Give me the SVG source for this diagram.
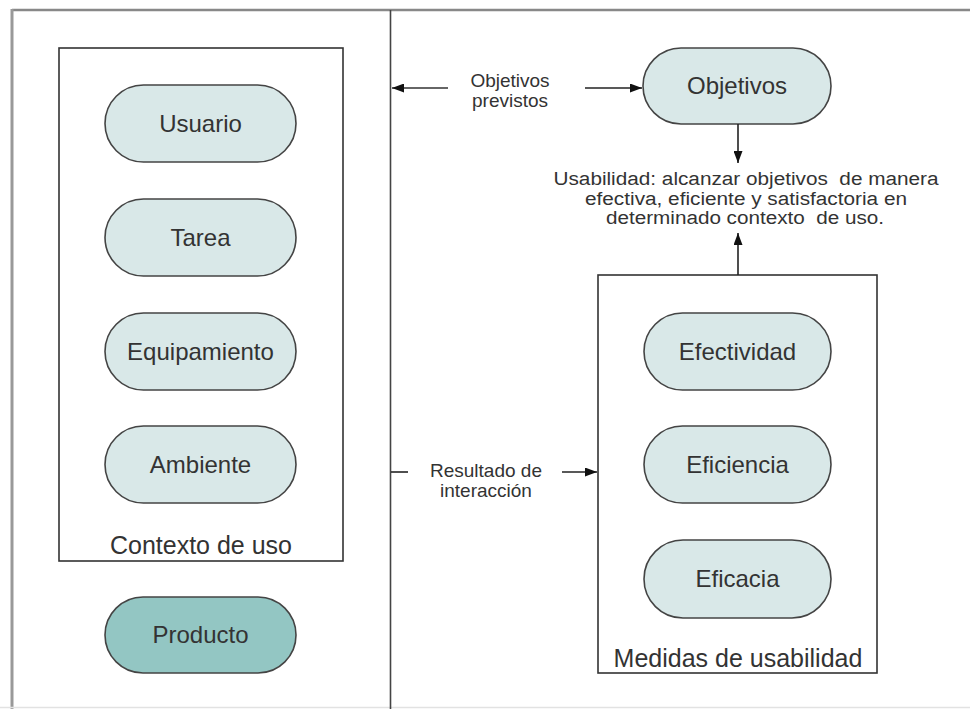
<svg xmlns="http://www.w3.org/2000/svg" width="970" height="709" viewBox="0 0 970 709">
<style>
  .pill { fill: #d9e8e8; stroke: #444; stroke-width: 1.6; }
  .prod { fill: #93c6c3; stroke: #444; stroke-width: 1.6; }
  .box { fill: none; stroke: #333; stroke-width: 1.6; }
  .lbl { font-family: "Liberation Sans", Arial, sans-serif; font-size: 24px; fill: #333; text-anchor: middle; }
  .boxlbl { font-family: "Liberation Sans", Arial, sans-serif; font-size: 25px; fill: #333; text-anchor: middle; }
  .note { font-family: "Liberation Sans", Arial, sans-serif; font-size: 19px; fill: #333; text-anchor: middle; }
  .use { font-family: "Liberation Sans", Arial, sans-serif; font-size: 18px; fill: #333; text-anchor: middle; }
  .conn { stroke: #222; stroke-width: 1.6; fill: none; }
</style>
<defs>
  <marker id="arr" markerWidth="12" markerHeight="9" refX="12" refY="4.5" orient="auto" markerUnits="userSpaceOnUse">
    <path d="M0,0 L12,4.5 L0,9 Z" fill="#111"/>
  </marker>
</defs>
<rect width="970" height="709" fill="#fff"/>
<g id="frame">
  <line x1="12" y1="10" x2="970" y2="10" stroke="#888" stroke-width="2.5"/>
  <line x1="12" y1="9" x2="12" y2="709" stroke="#999" stroke-width="3"/>
  <line x1="0" y1="707.5" x2="970" y2="707.5" stroke="#e2e2e2" stroke-width="1.5"/>
  <line x1="390.5" y1="10" x2="390.5" y2="709" stroke="#444" stroke-width="1.6"/>
</g>
<g id="contexto">
  <rect class="box" x="59" y="48" width="284" height="513"/>
  <text class="boxlbl" x="201" y="554">Contexto de uso</text>
</g>
<g id="usuario">
  <rect class="pill" x="105" y="85" width="191" height="77" rx="38.5"/>
  <text class="lbl" x="200.5" y="132">Usuario</text>
</g>
<g id="tarea">
  <rect class="pill" x="105" y="199" width="191" height="77" rx="38.5"/>
  <text class="lbl" x="200.5" y="246">Tarea</text>
</g>
<g id="equipamiento">
  <rect class="pill" x="105" y="313" width="191" height="77" rx="38.5"/>
  <text class="lbl" x="200.5" y="360">Equipamiento</text>
</g>
<g id="ambiente">
  <rect class="pill" x="105" y="426" width="191" height="77" rx="38.5"/>
  <text class="lbl" x="200.5" y="473">Ambiente</text>
</g>
<g id="producto">
  <rect class="prod" x="105" y="597" width="191" height="76" rx="38"/>
  <text class="lbl" x="200.5" y="643">Producto</text>
</g>
<g id="objetivos">
  <rect class="pill" x="643" y="48" width="188" height="76" rx="38"/>
  <text class="lbl" x="737" y="94">Objetivos</text>
</g>
<g id="usabilidad">
  <text class="use" x="746" y="185" textLength="385" lengthAdjust="spacingAndGlyphs" xml:space="preserve">Usabilidad: alcanzar objetivos  de manera</text>
  <text class="use" x="746" y="205" textLength="322" lengthAdjust="spacingAndGlyphs">efectiva, eficiente y satisfactoria en</text>
  <text class="use" x="745" y="224" textLength="278" lengthAdjust="spacingAndGlyphs" xml:space="preserve">determinado contexto  de uso.</text>
</g>
<g id="medidas">
  <rect class="box" x="598" y="275" width="279" height="398"/>
  <text class="boxlbl" x="738" y="667">Medidas de usabilidad</text>
</g>
<g id="efectividad">
  <rect class="pill" x="644" y="313" width="187" height="77" rx="38.5"/>
  <text class="lbl" x="737.5" y="360">Efectividad</text>
</g>
<g id="eficiencia">
  <rect class="pill" x="644" y="426" width="187" height="77" rx="38.5"/>
  <text class="lbl" x="737.5" y="473">Eficiencia</text>
</g>
<g id="eficacia">
  <rect class="pill" x="644" y="540" width="187" height="78" rx="39"/>
  <text class="lbl" x="737.5" y="587">Eficacia</text>
</g>
<g id="labels">
  <text class="note" x="510" y="87">Objetivos</text>
  <text class="note" x="510" y="107">previstos</text>
  <text class="note" x="486" y="477">Resultado de</text>
  <text class="note" x="486" y="497">interacción</text>
</g>
<g id="connectors">
  <line x1="448" y1="88" x2="392" y2="88" stroke="#666" stroke-width="2.2" marker-end="url(#arr)"/>
  <line class="conn" x1="585" y1="88" x2="642" y2="88" marker-end="url(#arr)"/>
  <line class="conn" x1="738" y1="124" x2="738" y2="163" marker-end="url(#arr)"/>
  <line class="conn" x1="738" y1="275" x2="738" y2="233" marker-end="url(#arr)"/>
  <line class="conn" x1="391" y1="472" x2="408" y2="472"/>
  <line class="conn" x1="562" y1="472" x2="597" y2="472" marker-end="url(#arr)"/>
</g>
</svg>
